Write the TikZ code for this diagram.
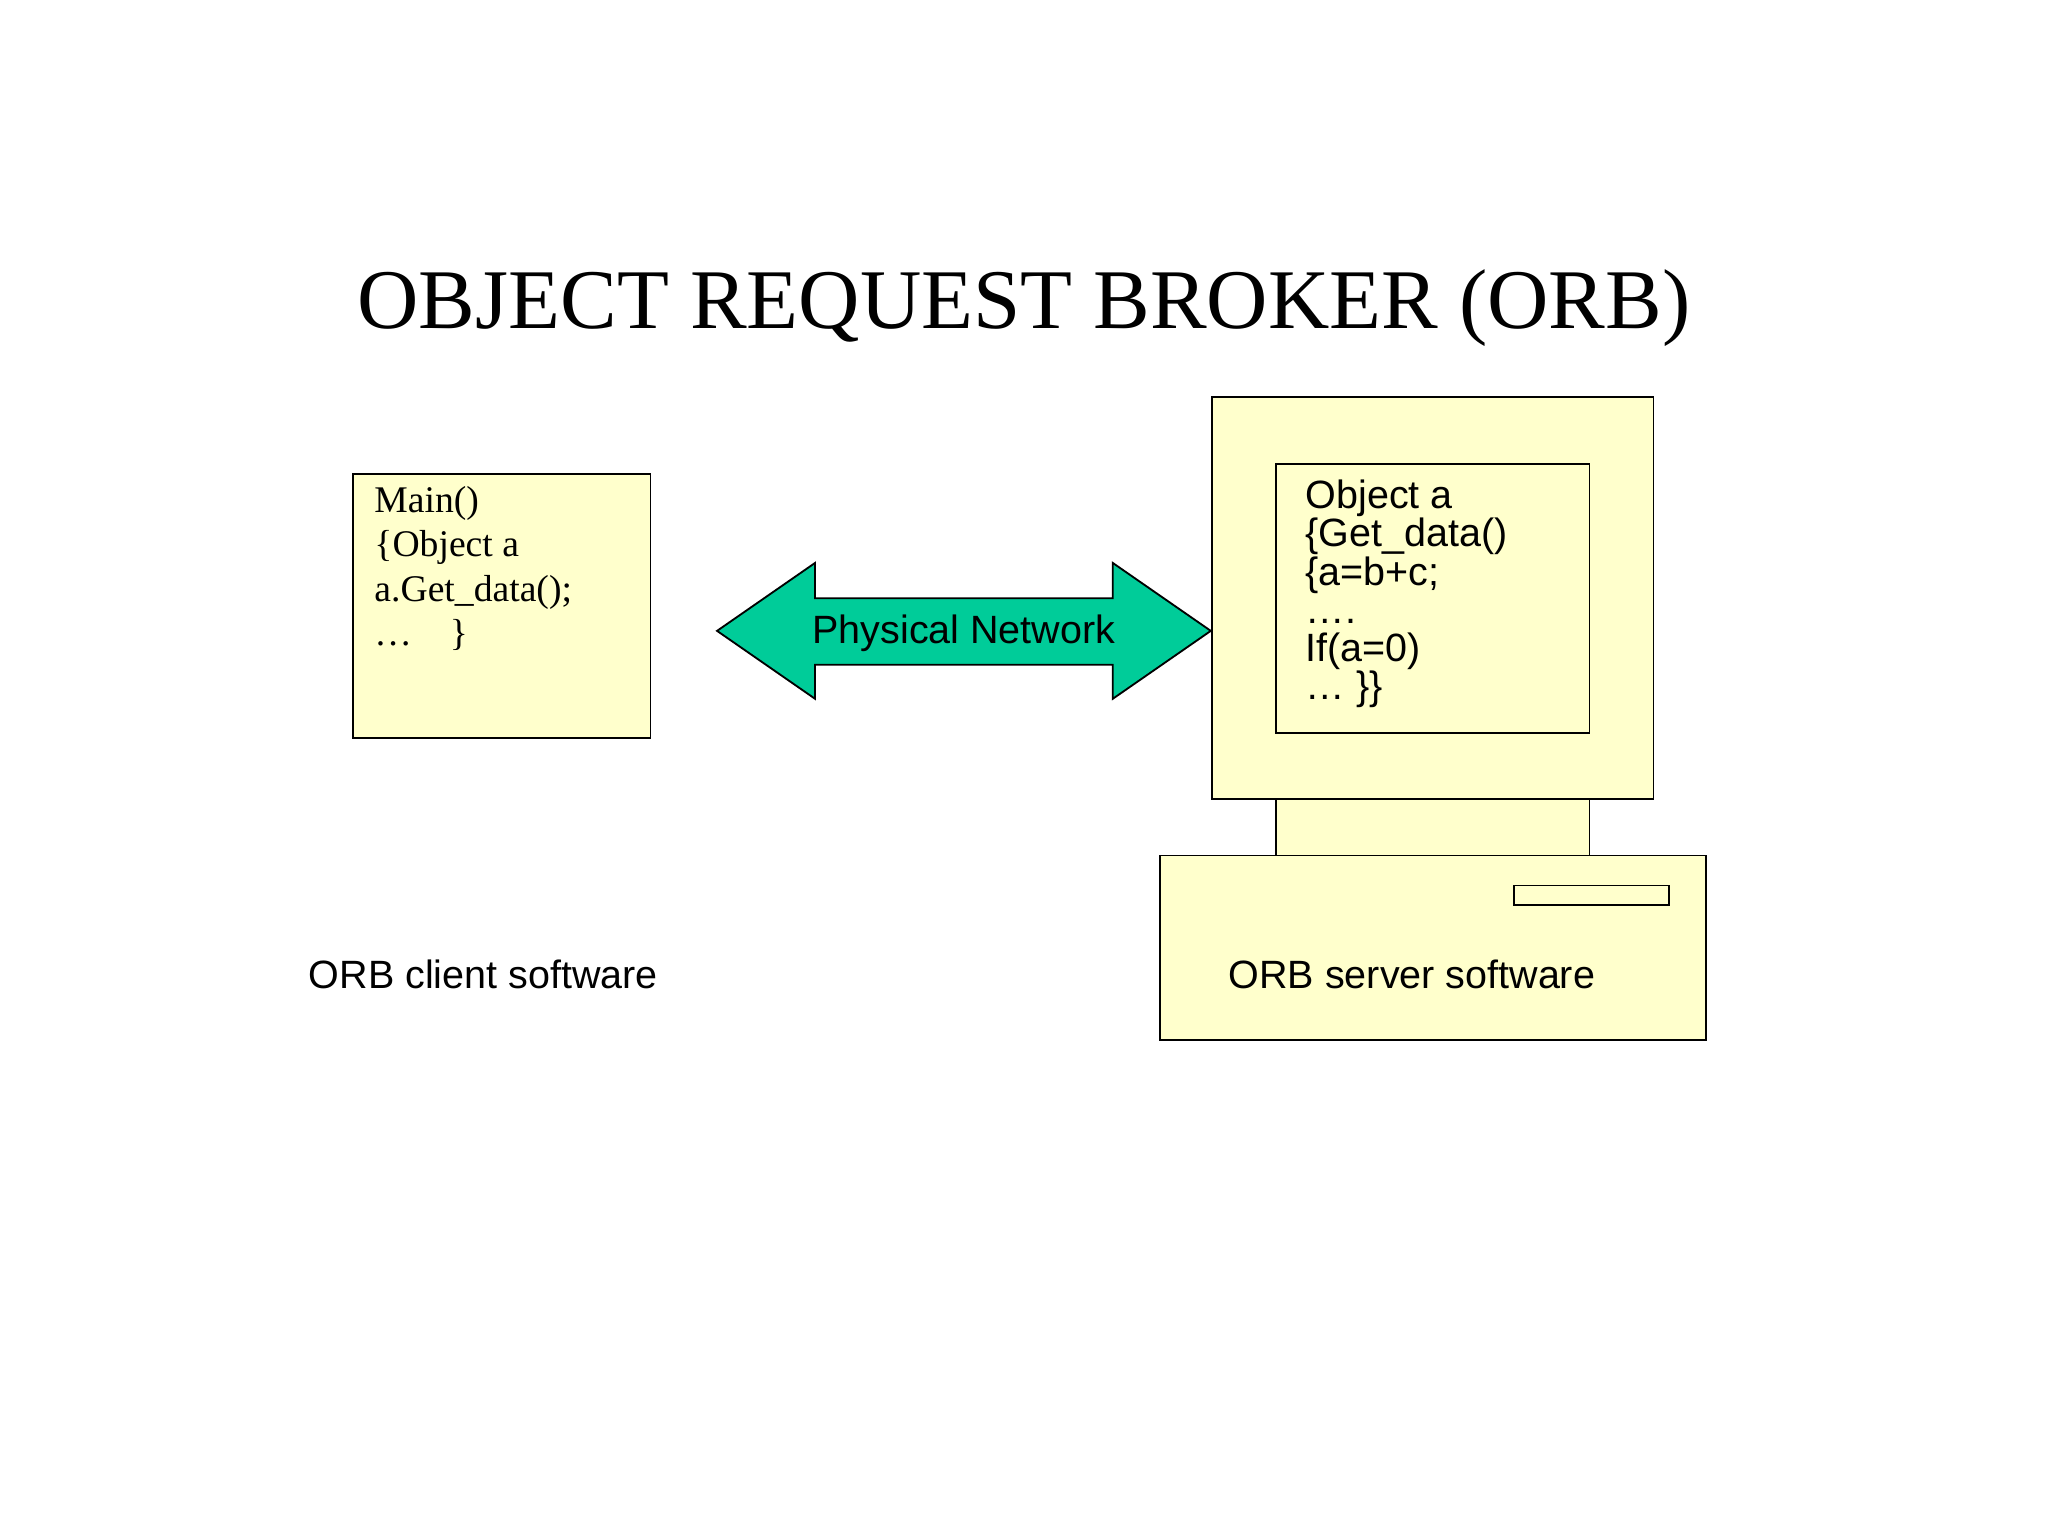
\documentclass[tikz,border=0pt]{standalone}
\usepackage{fontspec}
\setmainfont{Liberation Serif}
\newfontfamily\sansf{Liberation Sans}
\definecolor{lyel}{RGB}{255,255,204}
\definecolor{netgreen}{RGB}{0,204,153}
\begin{document}
\begin{tikzpicture}[x=0.1mm,y=-0.1mm,
  box/.style={draw=black,fill=lyel,line width=0.4pt},
  lbl/.style={font=\sansf\fontsize{8.6}{9}\selectfont,inner sep=0}]
\useasboundingbox (0,0) rectangle (1568,1176);
\node[font=\fontsize{18.5}{20}\selectfont] (title) at (784,236) {OBJECT REQUEST BROKER (ORB)};
% client
\draw[box] (270,363) rectangle (498,565);
\node[anchor=north west,align=left,inner sep=0,font=\fontsize{8.2}{9.6}\selectfont] (ctext) at (286,372)
 {Main()\\\{Object a\\a.Get\_data();\\\dots\quad\}};
% computer
\draw[box] (977,612) rectangle (1217,655);
\draw[box] (928,304) rectangle (1266,612);
\draw[box] (977,355) rectangle (1217,561);
\draw[box] (888,655) rectangle (1306,796);
\draw[box] (1159,678) rectangle (1278,693);
\node[anchor=north west,align=left,inner sep=0,font=\sansf\fontsize{8.6}{8.3}\selectfont] (stext) at (999,367)
 {Object a\\\{Get\_data()\\\{a=b+c;\\\dots.\\If(a=0)\\\dots\ \}\}};
% arrow
\draw[fill=netgreen,line width=0.4pt] (549,483) -- (624,431) -- (624,458) -- (852,458) -- (852,431) -- (927,483)
  -- (852,535) -- (852,509) -- (624,509) -- (624,535) -- cycle;
\node[lbl] (net) at (738,485) {Physical Network};
\node[lbl] (cl) at (370,746) {ORB client software};
\node[lbl] (sl) at (1081,746) {ORB server software};
\end{tikzpicture}
\end{document}
